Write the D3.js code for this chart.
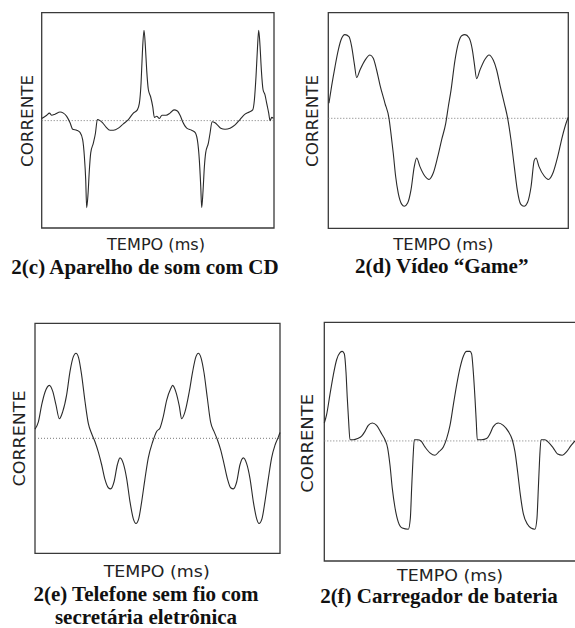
<!DOCTYPE html>
<html>
<head>
<meta charset="utf-8">
<script src="https://cdn.jsdelivr.net/npm/d3@7"></script>
<style>
  html, body { margin: 0; padding: 0; background: #fff; }
  svg { display: block; }
</style>
</head>
<body>
<svg id="chart" width="575" height="628"></svg>
<script>
// ---------- DATA ----------
// Panel 2(c): Aparelho de som com CD  (time in ms, current in normalized units)
const timeC = [0,0.73,1.12,1.46,1.94,2.67,3.16,3.64,4.13,4.51,5.10,5.58,5.97,6.21,6.41,6.55,6.75,6.94,7.14,7.52,7.82,8.11,8.50,8.88,9.37,9.95,10.44,11.17,11.89,12.62,13.35,13.93,14.22,14.47,14.66,14.90,15.10,15.29,15.53,15.87,16.17,16.41,16.75,17.14,17.52,18.11,18.69,19.27,19.76,20.15,20.53,21.12,21.84,22.33,22.67,22.96,23.16,23.30,23.50,23.69,23.88,24.27,24.51,24.81,25.24,25.58,26.07,26.70,27.43,28.16,28.88,29.61,30.24,30.73,30.97,31.21,31.41,31.60,31.80,31.99,32.23,32.52,32.77,33.06,33.25,33.50,33.74];
const currentC = [0.02,0.05,0.07,0.05,0.06,0.08,0.07,0.04,-0.02,-0.08,-0.09,-0.11,-0.18,-0.33,-0.55,-0.81,-0.68,-0.46,-0.30,-0.21,-0.12,0.01,0.0,-0.02,-0.06,-0.09,-0.09,-0.07,-0.03,0.01,0.07,0.10,0.16,0.35,0.63,0.84,0.69,0.47,0.29,0.22,0.13,0.03,0.04,0.02,0.05,0.05,0.07,0.10,0.09,0.05,-0.01,-0.07,-0.09,-0.11,-0.18,-0.37,-0.61,-0.81,-0.65,-0.43,-0.30,-0.21,-0.12,-0.01,-0.02,-0.04,-0.07,-0.08,-0.07,-0.04,0.01,0.06,0.08,0.10,0.19,0.41,0.66,0.84,0.69,0.47,0.29,0.24,0.16,0.07,0.0,0.03,0.02];

// Panel 2(d): Vídeo "Game"
const timeD = [0.09,0.46,0.93,1.30,1.76,2.31,2.87,3.24,3.61,3.94,4.40,5.09,5.79,6.25,6.71,7.18,7.87,8.43,8.70,9.03,9.35,9.72,10.19,10.56,11.02,11.48,11.94,12.27,12.73,13.43,13.98,14.58,15.19,15.74,16.30,16.67,17.04,17.59,18.06,18.52,18.98,19.54,20.00,20.28,20.60,21.06,21.76,22.31,22.92,23.38,23.84,24.44,24.91,25.37,25.83,26.25,26.71,27.18,27.69,28.15,28.61,28.84,29.26,30.00,30.56,31.25,31.85,32.50,33.10,33.33];
const currentD = [0.14,0.30,0.48,0.61,0.73,0.78,0.76,0.67,0.51,0.38,0.45,0.54,0.59,0.56,0.45,0.31,0.14,0.00,-0.14,-0.33,-0.54,-0.70,-0.80,-0.82,-0.79,-0.67,-0.45,-0.37,-0.45,-0.54,-0.57,-0.51,-0.36,-0.20,-0.05,0.11,0.26,0.54,0.70,0.77,0.78,0.75,0.64,0.51,0.37,0.45,0.55,0.59,0.54,0.45,0.31,0.14,0.00,-0.20,-0.45,-0.67,-0.80,-0.82,-0.78,-0.64,-0.39,-0.37,-0.45,-0.54,-0.57,-0.50,-0.36,-0.17,-0.03,0.01];

// Panel 2(e): Telefone sem fio com secretária eletrônica
const timeE = [0.00,0.45,0.91,1.36,1.95,2.41,2.86,3.32,3.77,4.32,4.77,5.23,5.59,5.95,6.36,6.82,7.27,7.73,8.18,8.64,9.09,9.55,10.00,10.32,10.77,11.23,11.59,12.05,12.50,12.95,13.41,13.77,14.14,14.55,15.00,15.45,16.05,16.59,17.05,17.50,17.95,18.50,18.77,19.23,19.68,20.00,20.45,21.05,21.50,21.95,22.27,22.64,23.05,23.50,23.95,24.41,24.86,25.32,25.77,26.23,26.68,27.05,27.50,27.95,28.41,28.86,29.32,29.77,30.23,30.55,30.95,31.36,31.82,32.27,32.73,33.18,33.41];
const currentE = [0.08,0.14,0.29,0.40,0.46,0.41,0.29,0.17,0.23,0.38,0.58,0.71,0.74,0.70,0.55,0.32,0.13,0.04,-0.03,-0.12,-0.23,-0.36,-0.43,-0.44,-0.38,-0.23,-0.17,-0.22,-0.35,-0.55,-0.70,-0.74,-0.70,-0.55,-0.35,-0.17,-0.03,0.06,0.09,0.19,0.33,0.43,0.46,0.40,0.28,0.17,0.23,0.41,0.58,0.71,0.74,0.70,0.57,0.35,0.14,0.06,-0.01,-0.10,-0.22,-0.35,-0.43,-0.44,-0.38,-0.23,-0.17,-0.22,-0.35,-0.55,-0.70,-0.74,-0.70,-0.55,-0.35,-0.17,-0.06,0.01,0.05];

// Panel 2(f): Carregador de bateria
const timeF = [0.00,0.30,0.74,1.17,1.61,2.05,2.35,2.61,2.83,3.00,3.18,3.35,3.79,4.35,4.87,5.31,5.74,6.27,6.83,7.48,7.92,8.27,8.57,8.88,9.23,9.66,10.18,10.97,11.23,11.40,11.58,11.75,12.18,12.62,13.14,13.79,14.45,14.97,15.54,15.97,16.41,16.84,17.28,17.71,18.15,18.58,19.02,19.23,19.45,19.67,19.84,19.97,20.54,21.19,21.63,22.06,22.72,23.37,24.02,24.54,24.89,25.24,25.59,25.98,26.55,26.98,27.50,27.76,27.94,28.11,28.29,28.81,29.24,29.90,30.46,31.07,31.64,32.20,32.72];
const currentF = [0.15,0.22,0.39,0.55,0.68,0.74,0.75,0.73,0.58,0.36,0.16,0.01,0.01,0.02,0.04,0.08,0.13,0.15,0.13,0.06,0.01,-0.06,-0.20,-0.40,-0.56,-0.68,-0.73,-0.74,-0.65,-0.40,-0.15,0.01,0.01,0.00,-0.05,-0.10,-0.12,-0.09,-0.05,0.02,0.13,0.30,0.47,0.61,0.71,0.75,0.75,0.73,0.58,0.36,0.16,0.01,0.01,0.02,0.06,0.12,0.15,0.13,0.08,0.01,-0.09,-0.26,-0.45,-0.61,-0.70,-0.73,-0.74,-0.65,-0.40,-0.15,0.01,0.01,-0.01,-0.06,-0.11,-0.12,-0.09,-0.04,0.00];

// Text
const yAxisLabel = "CORRENTE";
const xAxisLabel = "TEMPO (ms)";
const captions = [
  ["2(c) Aparelho de som com CD"],
  ["2(d) Vídeo \u201cGame\u201d"],
  ["2(e) Telefone sem fio com", "secretária eletrônica"],
  ["2(f) Carregador de bateria"]
];

// ---------- LAYOUT ----------
const panels = [
  { t: timeC, v: currentC, tMax: 33.83, vMin: -1.0, vMax: 1.005,
    box: { x0: 41.7, x1: 274, y0: 12.7, y1: 228 },
    yl: { x: 33, y: 121, len: 92 }, xl: { x: 156, y: 249.5, len: 98 },
    cap: { x: 145, y: 274, dy: 23.4 }, rightBorder: true },
  { t: timeD, v: currentD, tMax: 33.33, vMin: -1.025, vMax: 0.984,
    box: { x0: 328.3, x1: 568.3, y0: 12.7, y1: 228.3 },
    yl: { x: 318.3, y: 121, len: 92 }, xl: { x: 443.3, y: 249.5, len: 100 },
    cap: { x: 441.7, y: 272.5, dy: 23.4 }, rightBorder: true },
  { t: timeE, v: currentE, tMax: 33.41, vMin: -1.0, vMax: 1.0,
    box: { x0: 35, x1: 280, y0: 323.3, y1: 553.3 },
    yl: { x: 25, y: 438.5, len: 96 }, xl: { x: 156.7, y: 576.7, len: 106 },
    cap: { x: 146, y: 600.8, dy: 23.4 }, rightBorder: true },
  { t: timeF, v: currentF, tMax: 33.25, vMin: -1.006, vMax: 0.994,
    box: { x0: 324.3, x1: 579, y0: 322.3, y1: 561 },
    yl: { x: 313.3, y: 443.3, len: 99 }, xl: { x: 450, y: 580.5, len: 106 },
    cap: { x: 439, y: 603, dy: 23.4 }, rightBorder: false }
];

const svg = d3.select("#chart");

panels.forEach((p, i) => {
  const b = p.box;
  const x = d3.scaleLinear().domain([0, p.tMax]).range([b.x0, b.x1]);
  const y = d3.scaleLinear().domain([p.vMin, p.vMax]).range([b.y1, b.y0]);
  const g = svg.append("g");

  // frame
  g.append("path")
    .attr("d", p.rightBorder
      ? `M${b.x0},${b.y0}H${b.x1}V${b.y1}H${b.x0}Z`
      : `M${b.x1},${b.y0}H${b.x0}V${b.y1}H${b.x1}`)
    .attr("fill", "none")
    .attr("stroke", "#3a3a3a")
    .attr("stroke-width", 1.3);

  // zero (dotted) line
  g.append("line")
    .attr("x1", x(0)).attr("x2", x(p.tMax))
    .attr("y1", y(0)).attr("y2", y(0))
    .attr("stroke", "#777")
    .attr("stroke-width", 1)
    .attr("stroke-dasharray", "1,2");

  // curve
  const data = p.t.map((t, k) => [t, p.v[k]]);
  const line = d3.line()
    .x(d => x(d[0]))
    .y(d => y(d[1]))
    .curve(d3.curveMonotoneX);
  g.append("path")
    .datum(data)
    .attr("d", line)
    .attr("fill", "none")
    .attr("stroke", "#2a2a2a")
    .attr("stroke-width", 1.1)
    .attr("stroke-linejoin", "round");

  // y label
  g.append("text")
    .attr("transform", `translate(${p.yl.x},${p.yl.y}) rotate(-90)`)
    .attr("text-anchor", "middle")
    .attr("font-family", "DejaVu Sans, sans-serif")
    .attr("font-size", 15.5)
    .attr("textLength", p.yl.len)
    .attr("lengthAdjust", "spacingAndGlyphs")
    .attr("fill", "#222")
    .text(yAxisLabel);

  // x label
  g.append("text")
    .attr("x", p.xl.x).attr("y", p.xl.y)
    .attr("text-anchor", "middle")
    .attr("font-family", "DejaVu Sans, sans-serif")
    .attr("font-size", 15.5)
    .attr("textLength", p.xl.len)
    .attr("lengthAdjust", "spacingAndGlyphs")
    .attr("fill", "#222")
    .text(xAxisLabel);

  // caption
  captions[i].forEach((line, k) => {
    g.append("text")
      .attr("x", p.cap.x).attr("y", p.cap.y + k * p.cap.dy)
      .attr("text-anchor", "middle")
      .attr("font-family", "Liberation Serif, Times New Roman, serif")
      .attr("font-weight", "bold")
      .attr("font-size", 21)
      .attr("fill", "#111")
      .text(line);
  });
});
</script>
</body>
</html>
